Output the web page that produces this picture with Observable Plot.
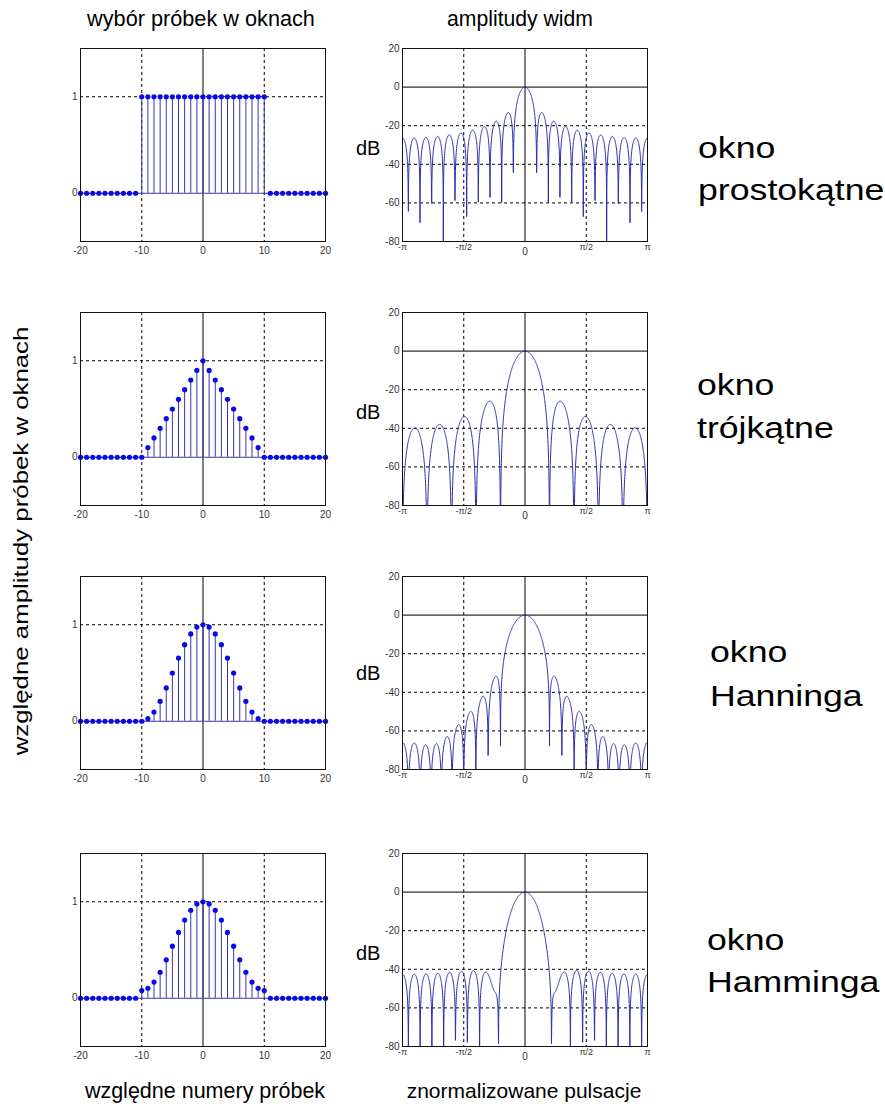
<!DOCTYPE html>
<html><head><meta charset="utf-8">
<script src="https://cdn.jsdelivr.net/npm/d3@7"></script>
<script src="https://cdn.jsdelivr.net/npm/@observablehq/plot@0.6"></script>
<style>
body{margin:0;background:#fff;}
#root{position:relative;width:885px;height:1104px;overflow:hidden;background:#fff;}
#root svg{position:absolute;}
</style></head><body><div id="root"></div>
<script>
// ---------- data ----------
const sampleIndex = [-20,-19,-18,-17,-16,-15,-14,-13,-12,-11,-10,-9,-8,-7,-6,-5,-4,-3,-2,-1,0,1,2,3,4,5,6,7,8,9,10,11,12,13,14,15,16,17,18,19,20];
const rectWindow = [0,0,0,0,0,0,0,0,0,0, 1,1,1,1,1,1,1,1,1,1,1,1,1,1,1,1,1,1,1,1,1, 0,0,0,0,0,0,0,0,0,0];
const triangleWindow = [0,0,0,0,0,0,0,0,0,0,0, 0.1,0.2,0.3,0.4,0.5,0.6,0.7,0.8,0.9,1,0.9,0.8,0.7,0.6,0.5,0.4,0.3,0.2,0.1, 0,0,0,0,0,0,0,0,0,0,0];
const hanningWindow = [0,0,0,0,0,0,0,0,0,0,0, 0.027,0.0955,0.2061,0.3455,0.5,0.6545,0.7939,0.9045,0.9755,1,0.9755,0.9045,0.7939,0.6545,0.5,0.3455,0.2061,0.0955,0.027, 0,0,0,0,0,0,0,0,0,0,0];
const hammingWindow = [0,0,0,0,0,0,0,0,0,0, 0.08,0.1025,0.1679,0.2696,0.3979,0.54,0.6821,0.8104,0.9121,0.9775,1,0.9775,0.9121,0.8104,0.6821,0.54,0.3979,0.2696,0.1679,0.1025,0.08, 0,0,0,0,0,0,0,0,0,0];
const windows = [rectWindow, triangleWindow, hanningWindow, hammingWindow];
const windowNames = [["okno","prostokątne"],["okno","trójkątne"],["okno","Hanninga"],["okno","Hamminga"]];

const sampleTicks = [-20,-10,0,10,20];
const sampleYTicks = [0,1];
const specYTicks = [-80,-60,-40,-20,0,20];
const specPiTicks = [-Math.PI, -Math.PI/2, Math.PI/2, Math.PI];
const specPiLabels = ["-π","-π/2","π/2","π"];

// ---------- layout ----------
const FONT = '"Liberation Sans", Arial, sans-serif';
const rowTops = [48, 312, 576, 853];
const FW = 245, FH = 193;
const ML = 45, MR = 6, MT = 6, MB = 26;
const leftX = 80, rightX = 402;
const STEM = "#3535a8", DOT = "#0a0ae6", LINE = "#2d2dac";
const root = document.getElementById("root");

// spectrum (DTFT of the window samples above), in dB normalised to 0 at ω=0
const K = 1500;
const omega = d3.range(K + 1).map(i => -Math.PI + 2 * Math.PI * i / K);
function spectrum(win) {
  const w0 = Math.abs(d3.sum(win));
  return omega.map(w => {
    let re = 0, im = 0;
    win.forEach((v, i) => { const n = sampleIndex[i]; re += v * Math.cos(w * n); im -= v * Math.sin(w * n); });
    const m = Math.sqrt(re * re + im * im) / w0;
    return {w, db: Math.max(20 * Math.log10(m), -300)};
  });
}

function place(svg, x, y) {
  svg.style.left = (x - ML) + "px";
  svg.style.top = (y - MT) + "px";
  root.appendChild(svg);
}
const baseStyle = {fontFamily: FONT, fontSize: "10px", color: "#333", background: "transparent", overflow: "visible"};
const dash = {stroke: "black", strokeDasharray: "3,3", strokeWidth: 1};
const plain = d => String(d);

windows.forEach((win, r) => {
  const data = sampleIndex.map((n, i) => ({n, v: win[i]}));
  const left = Plot.plot({
    width: FW + ML + MR, height: FH + MT + MB,
    marginLeft: ML, marginRight: MR, marginTop: MT, marginBottom: MB,
    x: {domain: [-20, 20]}, y: {domain: [-0.5, 1.5]},
    style: baseStyle,
    marks: [
      Plot.ruleX([-10, 10], dash),
      Plot.ruleY([1], dash),
      Plot.ruleX([0], {stroke: "black"}),
      Plot.ruleY([0], {stroke: STEM}),
      Plot.ruleX(data.filter(d => d.v !== 0), {x: "n", y1: 0, y2: "v", stroke: STEM}),
      Plot.dot(data, {x: "n", y: "v", r: 2.6, fill: DOT, stroke: "none"}),
      Plot.frame({stroke: "#111"}),
      Plot.axisX({ticks: sampleTicks, tickFormat: plain, tickSize: 0, tickPadding: 5, label: null, fill: "#333"}),
      Plot.axisY({ticks: sampleYTicks, tickFormat: plain, tickSize: 0, tickPadding: 3, label: null, fill: "#333"})
    ]
  });
  place(left, leftX, rowTops[r]);

  const spec = spectrum(win);
  const right = Plot.plot({
    width: FW + ML + MR, height: FH + MT + MB,
    marginLeft: ML, marginRight: MR, marginTop: MT, marginBottom: MB,
    x: {domain: [-Math.PI, Math.PI]}, y: {domain: [-80, 20]},
    style: baseStyle,
    marks: [
      Plot.ruleX([-Math.PI/2, Math.PI/2], dash),
      Plot.ruleY([-60, -40, -20], dash),
      Plot.ruleX([0], {stroke: "black"}),
      Plot.ruleY([0], {stroke: "black"}),
      Plot.line(spec, {x: "w", y: "db", stroke: LINE, strokeWidth: 1, clip: true}),
      Plot.frame({stroke: "#111"}),
      Plot.axisX({ticks: specPiTicks, tickFormat: d => specPiLabels[specPiTicks.indexOf(d)], tickSize: 0, tickPadding: 2, fontSize: 9, label: null, fill: "#333"}),
      Plot.axisX({ticks: [0], tickFormat: d => "0", tickSize: 0, tickPadding: 6, label: null, fill: "#333"}),
      Plot.axisY({ticks: specYTicks, tickFormat: plain, tickSize: 0, tickPadding: 3, label: null, fill: "#333"})
    ]
  });
  place(right, rightX, rowTops[r]);
});

// ---------- texts ----------
const ns = "http://www.w3.org/2000/svg";
const over = document.createElementNS(ns, "svg");
over.setAttribute("width", 885); over.setAttribute("height", 1104);
over.style.left = "0px"; over.style.top = "0px"; over.style.pointerEvents = "none";
root.appendChild(over);
function txt(s, x, y, size, opts = {}) {
  const t = document.createElementNS(ns, "text");
  t.textContent = s;
  t.setAttribute("font-family", FONT);
  t.setAttribute("font-size", size);
  t.setAttribute("fill", "#000");
  t.setAttribute("text-anchor", opts.anchor || "start");
  t.setAttribute("transform", `translate(${x},${y}) rotate(${opts.rotate || 0}) scale(${opts.sx || 1},1)`);
  over.appendChild(t);
}
txt("wybór próbek w oknach", 201, 26, 21.7, {anchor: "middle"});
txt("amplitudy widm", 520, 26, 21.2, {anchor: "middle"});
txt("względne numery próbek", 205, 1098, 21.5, {anchor: "middle"});
txt("znormalizowane pulsacje", 524, 1098, 21, {anchor: "middle"});
txt("względne amplitudy próbek w oknach", 28, 541, 20, {anchor: "middle", rotate: -90, sx: 1.29});
const dbY = [155, 419, 680, 960];
dbY.forEach(y => txt("dB", 356, y, 20));
const labelPos = [[698, 158, 200], [697, 395, 438], [710, 662, 706], [707, 950, 992]];
windowNames.forEach((nm, r) => {
  const [x, y1, y2] = labelPos[r];
  txt(nm[0], x, y1, 29, {sx: 1.23});
  txt(nm[1], x, y2, 29, {sx: 1.23});
});
</script></body></html>
